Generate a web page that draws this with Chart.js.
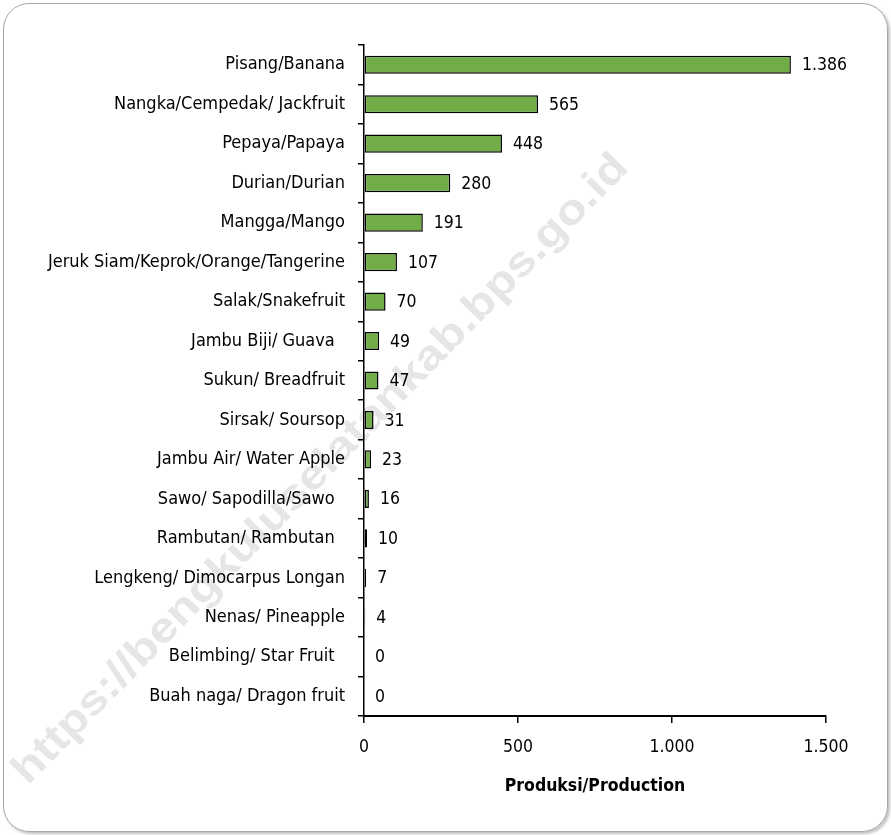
<!DOCTYPE html>
<html>
<head>
<meta charset="utf-8">
<script src="https://cdn.jsdelivr.net/npm/chart.js@4"></script>
<style>
  html, body { margin: 0; padding: 0; background: #fff; }
  .frame {
    position: absolute; left: 3px; top: 3px; width: 883px; height: 827px;
    border: 1px solid #a6a6a6; border-radius: 26px;
    box-shadow: 2px 2px 3px rgba(0,0,0,0.25);
  }
  #chart { position: absolute; left: 0; top: 0; }
</style>
</head>
<body>
<div class="frame"></div>
<canvas id="chart" width="891" height="835"></canvas>
<script>
// data
const fruits = [
    'Pisang/Banana', 'Nangka/Cempedak/ Jackfruit', 'Pepaya/Papaya', 'Durian/Durian',
    'Mangga/Mango', 'Jeruk Siam/Keprok/Orange/Tangerine', 'Salak/Snakefruit',
    'Jambu Biji/ Guava  ', 'Sukun/ Breadfruit', 'Sirsak/ Soursop', 'Jambu Air/ Water Apple',
    'Sawo/ Sapodilla/Sawo  ', 'Rambutan/ Rambutan  ', 'Lengkeng/ Dimocarpus Longan',
    'Nenas/ Pineapple', 'Belimbing/ Star Fruit  ', 'Buah naga/ Dragon fruit'
];
const production = [1386, 565, 448, 280, 191, 107, 70, 49, 47, 31, 23, 16, 10, 7, 4, 0, 0];
const xTicks = [0, 500, 1000, 1500];

const font = "'Liberation Sans Narrow', 'DejaVu Sans Condensed', sans-serif";

// thousands with dot like the source
function fmt(v) {
    return String(v).replace(/\B(?=(\d{3})+(?!\d))/g, '.');
}

// watermark behind everything
const watermark = {
    id: 'watermark',
    beforeDraw(chart) {
        const ctx = chart.ctx;
        const text = 'https://bengkuluselatankab.bps.go.id';
        ctx.save();
        ctx.font = "bold 42px 'Liberation Sans', sans-serif";
        const w = ctx.measureText(text).width;
        const target = 862;
        ctx.translate(28, 786);
        ctx.rotate(-Math.atan2(615, 600));
        ctx.scale(target / w, 1);
        ctx.fillStyle = '#e6e6e6';
        ctx.textBaseline = 'alphabetic';
        ctx.fillText(text, 0, 0);
        ctx.restore();
    }
};

// value labels at bar ends
const valueLabels = {
    id: 'valueLabels',
    afterDatasetsDraw(chart) {
        const ctx = chart.ctx;
        const meta = chart.getDatasetMeta(0);
        ctx.save();
        ctx.font = '17.5px ' + font;
        ctx.fillStyle = '#000';
        ctx.textBaseline = 'middle';
        ctx.textAlign = 'left';
        meta.data.forEach((bar, i) => {
            ctx.fillText(fmt(production[i]), bar.x + 11, bar.y + 1);
        });
        ctx.restore();
    }
};

const ctx = document.getElementById('chart').getContext('2d');
const chart = new Chart(ctx, {
    type: 'bar',
    data: {
        labels: fruits,
        datasets: [{
            data: production,
            backgroundColor: '#70ad47',
            borderColor: '#000',
            borderWidth: 1.5,
            borderSkipped: false,
            categoryPercentage: 1,
            barPercentage: 0.46
        }]
    },
    options: {
        indexAxis: 'y',
        responsive: false,
        animation: false,
        layout: { padding: { left: 10, top: 45, right: 65, bottom: 34 } },
        plugins: { legend: { display: false }, tooltip: { enabled: false } },
        scales: {
            x: {
                min: 0,
                max: 1500,
                afterBuildTicks(scale) {
                    scale.ticks = xTicks.map(v => ({ value: v }));
                },
                afterFit(scale) { scale.height = 85; },
                border: { color: '#000', width: 2 },
                grid: { drawOnChartArea: false, drawTicks: true, tickLength: 7, color: '#000', lineWidth: 1.5 },
                ticks: {
                    color: '#000',
                    font: { family: font, size: 17.5 },
                    padding: 14,
                    callback: v => fmt(v)
                },
                title: {
                    display: true,
                    text: 'Produksi/Production',
                    color: '#000',
                    font: { family: font, size: 17.5, weight: 'bold' },
                    padding: { top: 8 }
                }
            },
            y: {
                afterFit(scale) { scale.width = 354; },
                border: { color: '#000', width: 1.5 },
                grid: { offset: true, drawOnChartArea: false, drawTicks: true, tickLength: 6, color: '#000', lineWidth: 1.5 },
                ticks: {
                    color: '#000',
                    font: { family: font, size: 18 },
                    padding: 13
                }
            }
        }
    },
    plugins: [watermark, valueLabels]
});
</script>
</body>
</html>
